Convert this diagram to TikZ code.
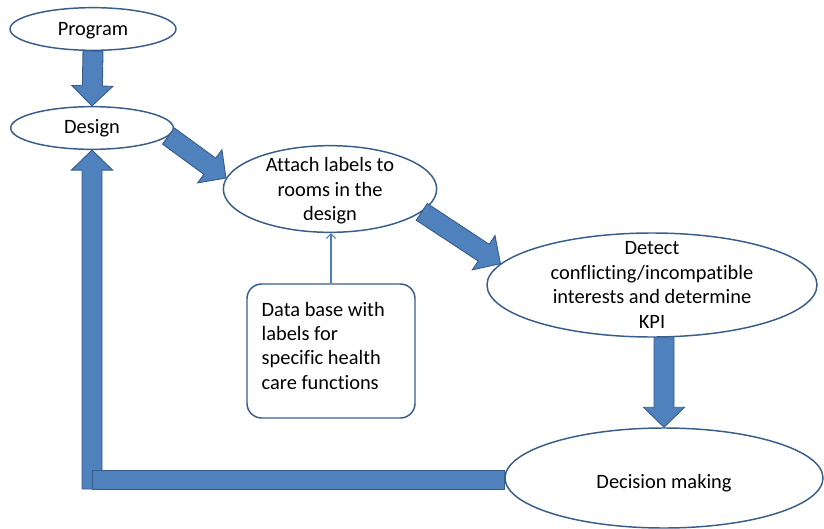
\documentclass[tikz,border=0pt]{standalone}
\usepackage{fontspec}
\setmainfont{Carlito}[Ligatures=NoCommon]
\usetikzlibrary{calc,shapes.geometric,arrows.meta}
\definecolor{arrowblue}{HTML}{4F81BD}
\definecolor{edgeblue}{HTML}{385D8A}
\definecolor{lineblue}{HTML}{4A7EBB}
\tikzset{
  stage/.style={ellipse, draw=edgeblue, line width=1.1pt, fill=white, inner sep=0pt},
  stagetext/.style={align=center, inner sep=0pt, font=\fontsize{15.3}{18.3}\selectfont},
  databox/.style={rectangle, rounded corners=11pt, draw=edgeblue, line width=1.1pt, inner sep=0pt},
  datatext/.style={text width=104pt, align=flush left, inner sep=0pt, yshift=4pt,
    font=\fontsize{15.3}{18.3}\selectfont},
  blockarrow/.style={fill=arrowblue, draw=edgeblue, line width=0.7pt},
}
% block arrow from #1 to #2 (coordinate or anchor names)
\newcommand{\blockarrow}[2]{%
  \coordinate (tipbase) at ($(#2)!15pt!(#1)$);
  \filldraw[blockarrow] ($(#1)!7.5pt!90:(#2)$) -- ($(tipbase)!7.5pt!90:(#2)$)
    -- ($(tipbase)!15.4pt!90:(#2)$) -- (#2) -- ($(tipbase)!15.4pt!-90:(#2)$)
    -- ($(tipbase)!7.5pt!-90:(#2)$) -- ($(#1)!7.5pt!-90:(#2)$) -- cycle;
}
\begin{document}
\begin{tikzpicture}[x=0.75pt,y=-0.75pt]
\useasboundingbox (0,0) rectangle (824,528);
\node[stage, minimum width=124.5pt, minimum height=32pt,
  label={[stagetext, yshift=-1.5pt]center:Program}] (program) at (93,29) {};
\node[stage, minimum width=122pt, minimum height=32pt,
  label={[stagetext]center:Design}] (design) at (92,128) {};
\node[stage, minimum width=160pt, minimum height=65pt,
  label={[stagetext, yshift=-1.5pt]center:{Attach labels to\\rooms in the\\design}}] (attach) at (330,189) {};
\node[stage, minimum width=247.5pt, minimum height=78pt,
  label={[stagetext]center:{Detect\\conflicting/incompatible\\interests and determine\\KPI}}] (detect) at (652,285) {};
\node[stage, minimum width=238.5pt, minimum height=75pt,
  label={[stagetext, yshift=-3.5pt]center:Decision making}] (decision) at (664,478) {};
\node[databox, minimum width=126pt, minimum height=100.5pt,
  label={[datatext]center:{Data base with\\labels for\\specific health\\care functions}}] (database) at (331,351) {};

\draw[lineblue, line width=0.8pt, -{Straight Barb[length=3.5pt,width=7pt]}]
  (database.north) -- (database.north |- attach.south);

\blockarrow{program.south}{design.north}
\blockarrow{design.-6}{attach.174}
\blockarrow{attach.-14}{detect.172}
\coordinate (kpiout) at (decision.north |- detect.south);
\blockarrow{kpiout}{decision.north}

% feedback loop
\coordinate (corner) at (decision.west -| design.south);
\coordinate (loopstart) at ($(corner)+(0,11)$);
\blockarrow{loopstart}{design.south}
\filldraw[blockarrow] ($(decision.west)+(0,-8)$) rectangle (loopstart);
\end{tikzpicture}
\end{document}
